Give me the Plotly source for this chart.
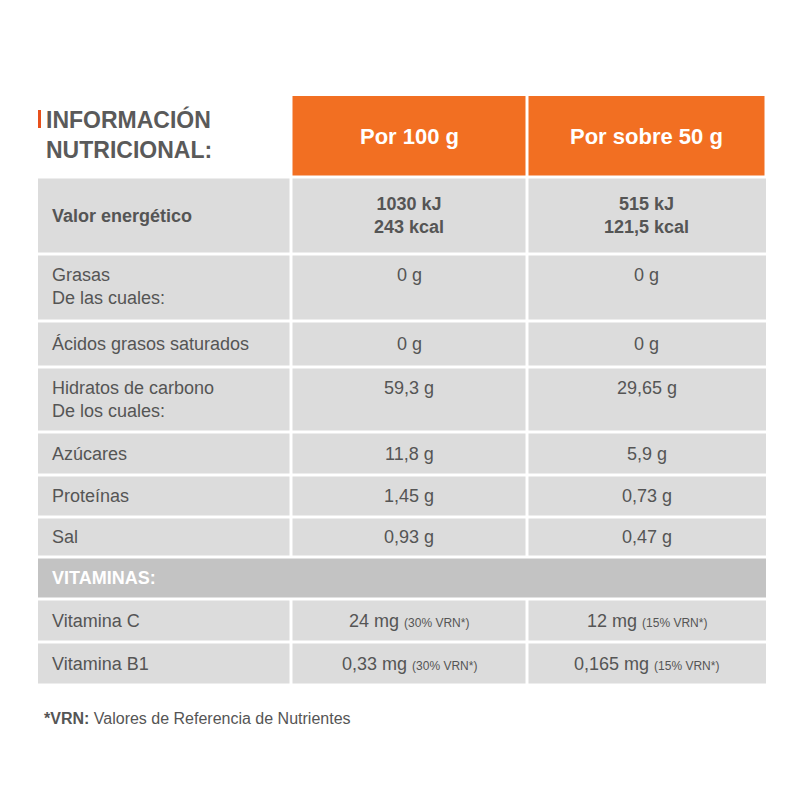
import plotly.graph_objects as go

col_headers = ["Por 100 g", "Por sobre 50 g"]
row_labels = ["<b>Valor energético</b>", "Grasas<br>De las cuales:", "Ácidos grasos saturados",
              "Hidratos de carbono<br>De los cuales:", "Azúcares", "Proteínas", "Sal",
              "<b>VITAMINAS:</b>", "Vitamina C", "Vitamina B1"]
per100 = ["<b>1030 kJ<br>243 kcal</b>", "0 g", "0 g", "59,3 g", "11,8 g", "1,45 g", "0,93 g", "",
          "24 mg <span style='font-size:12px'>(30% VRN*)</span>",
          "0,33 mg <span style='font-size:12px'>(30% VRN*)</span>"]
per50 = ["<b>515 kJ<br>121,5 kcal</b>", "0 g", "0 g", "29,65 g", "5,9 g", "0,73 g", "0,47 g", "",
         "12 mg <span style='font-size:12px'>(15% VRN*)</span>",
         "0,165 mg <span style='font-size:12px'>(15% VRN*)</span>"]
row_edges = [177, 254, 321, 367, 432, 475, 517, 557, 599, 642, 685]
col_edges = [38, 291, 527, 766]
header_top = 96

ORANGE = "#f26f22"
GRAY = "#dcdcdc"
DARK = "#c3c3c3"
TXT = "#555555"
FONT = "Liberation Sans Narrow, Liberation Sans, Arial"

fig = go.Figure()
shapes, ann = [], []
g = 1.5
for j in (1, 2):
    shapes.append(dict(type="rect", x0=col_edges[j] + g, x1=col_edges[j + 1] - g, y0=header_top,
                       y1=row_edges[0] - g, fillcolor=ORANGE, line_width=0, layer="below"))
    ann.append(dict(x=(col_edges[j] + col_edges[j + 1]) / 2, y=(header_top + row_edges[0]) / 2,
                    text="<b>" + col_headers[j - 1] + "</b>", showarrow=False,
                    font=dict(size=22, color="white", family=FONT)))
ann.append(dict(x=44, y=104, text="<b>INFORMACIÓN<br>NUTRICIONAL:</b>", showarrow=False,
                xanchor="left", yanchor="top", align="left",
                font=dict(size=23, color="#5a5a5a", family=FONT)))
shapes.append(dict(type="rect", x0=38, x1=41, y0=110, y1=128, fillcolor="#e8501c", line_width=0))

for i, lab in enumerate(row_labels):
    y0, y1 = row_edges[i] + g, row_edges[i + 1] - g
    two = "<br>" in lab and i != 0
    if i == 7:
        shapes.append(dict(type="rect", x0=col_edges[0], x1=col_edges[3], y0=y0, y1=y1,
                           fillcolor=DARK, line_width=0, layer="below"))
        ann.append(dict(x=50, y=(y0 + y1) / 2, text=lab, showarrow=False, xanchor="left",
                        font=dict(size=18, color="white", family=FONT)))
        continue
    for j in range(3):
        shapes.append(dict(type="rect", x0=col_edges[j] + (g if j else 0),
                           x1=col_edges[j + 1] - (g if j < 2 else 0), y0=y0, y1=y1,
                           fillcolor=GRAY, line_width=0, layer="below"))
    if two:
        ym, ya = y0 + 7, "top"
    else:
        ym, ya = (y0 + y1) / 2, "middle"
    ann.append(dict(x=50, y=ym, text=lab, showarrow=False, xanchor="left", yanchor=ya,
                    align="left", font=dict(size=18, color=TXT, family=FONT)))
    for j, vals in ((1, per100), (2, per50)):
        ann.append(dict(x=(col_edges[j] + col_edges[j + 1]) / 2, y=ym, text=vals[i],
                        showarrow=False, yanchor=ya, align="center",
                        font=dict(size=18, color=TXT, family=FONT)))

ann.append(dict(x=42, y=718, text="<b>*VRN:</b> Valores de Referencia de Nutrientes", showarrow=False,
                xanchor="left", font=dict(size=16, color=TXT, family=FONT)))

fig.update_layout(width=800, height=800, margin=dict(l=0, r=0, t=0, b=0),
                  paper_bgcolor="white", plot_bgcolor="white", shapes=shapes, annotations=ann,
                  xaxis=dict(range=[8, 808], visible=False, fixedrange=True),
                  yaxis=dict(range=[808, 8], visible=False, fixedrange=True))
fig.write_html("out.html")
